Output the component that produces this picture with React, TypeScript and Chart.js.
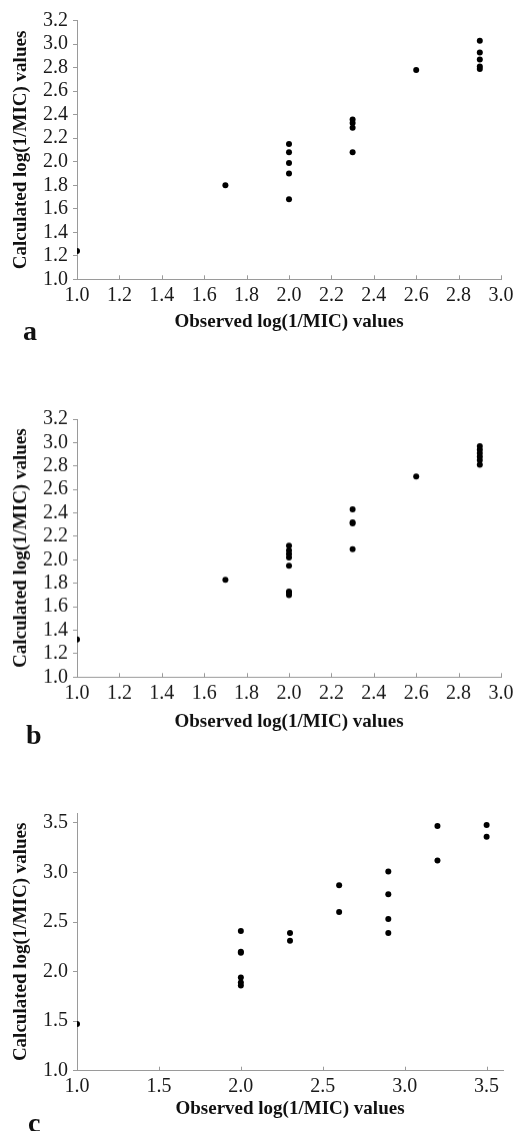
import React, { useEffect, useRef } from "react";
import { Chart, registerables } from "chart.js";

Chart.register(...registerables);

// ---- Data ----
const obsA = [1.0, 1.7, 2.0, 2.0, 2.0, 2.0, 2.0, 2.3, 2.3, 2.3, 2.3, 2.6, 2.9, 2.9, 2.9, 2.9, 2.9];
const calcA = [1.24, 1.8, 2.15, 2.08, 1.99, 1.9, 1.68, 2.36, 2.33, 2.29, 2.08, 2.78, 3.03, 2.93, 2.87, 2.81, 2.79];

const obsB = [1.0, 1.7, 2.0, 2.0, 2.0, 2.0, 2.0, 2.0, 2.0, 2.0, 2.3, 2.3, 2.3, 2.3, 2.6, 2.9, 2.9, 2.9, 2.9, 2.9, 2.9];
const calcB = [1.32, 1.83, 2.12, 2.08, 2.05, 2.02, 1.95, 1.73, 1.72, 1.7, 2.43, 2.32, 2.31, 2.09, 2.71, 2.97, 2.94, 2.91, 2.88, 2.85, 2.81];

const obsC = [1.0, 2.0, 2.0, 2.0, 2.0, 2.0, 2.0, 2.3, 2.3, 2.6, 2.6, 2.9, 2.9, 2.9, 2.9, 3.2, 3.2, 3.5, 3.5];
const calcC = [1.47, 2.41, 2.2, 2.19, 1.94, 1.89, 1.86, 2.39, 2.31, 2.87, 2.6, 3.01, 2.78, 2.53, 2.39, 3.47, 3.12, 3.48, 3.36];

const xTitle = "Observed log(1/MIC) values";
const yTitle = "Calculated log(1/MIC) values";
const panelLetters = ["a", "b", "c"];

// ---- Layout config ----
type Panel = {
  obs: number[];
  calc: number[];
  letter: string;
  top: number; // canvas top (page px)
  height: number; // canvas height
  padTop: number;
  padBottom: number;
  xHeight: number;
  xMin: number; xMax: number; xStep: number;
  yMin: number; yMax: number; yStep: number;
  letterX: number; letterY: number; // in canvas coords (baseline)
};

const panels: Panel[] = [
  { obs: obsA, calc: calcA, letter: panelLetters[0], top: 0, height: 348, padTop: 20.7, padBottom: 14.6, xHeight: 54.1,
    xMin: 1, xMax: 3, xStep: 0.2, yMin: 1, yMax: 3.2, yStep: 0.2, letterX: 23, letterY: 340 },
  { obs: obsB, calc: calcB, letter: panelLetters[1], top: 399.3, height: 350.7, padTop: 20, padBottom: 16.6, xHeight: 56.1,
    xMin: 1, xMax: 3, xStep: 0.2, yMin: 1, yMax: 3.2, yStep: 0.2, letterX: 26, letterY: 343.7 },
  { obs: obsC, calc: calcC, letter: panelLetters[2], top: 792.7, height: 338.3, padTop: 20, padBottom: 10.6, xHeight: 49.7,
    xMin: 1, xMax: 3.6, xStep: 0.5, yMin: 1, yMax: 3.6, yStep: 0.5, letterX: 28, letterY: 339 },
];

const AXIS = "#9a9a9a";
const SERIF = "'Liberation Serif', 'Times New Roman', serif";

const innerTicks = {
  id: "innerTicks",
  afterDraw(chart: any) {
    const xs = chart.scales.x;
    const ctx = chart.ctx;
    const bottom = chart.chartArea.bottom;
    ctx.save();
    ctx.strokeStyle = AXIS;
    ctx.lineWidth = 1;
    xs.ticks.forEach((t: any) => {
      const px = Math.round(xs.getPixelForValue(t.value)) + 0.5;
      ctx.beginPath();
      ctx.moveTo(px, bottom);
      ctx.lineTo(px, bottom - 4);
      ctx.stroke();
    });
    ctx.restore();
  },
};

const letterPlugin = {
  id: "panelLetter",
  afterDraw(chart: any, _args: any, opts: any) {
    const ctx = chart.ctx;
    ctx.save();
    ctx.font = `bold 28px ${SERIF}`;
    ctx.fillStyle = "#111";
    ctx.textBaseline = "alphabetic";
    ctx.textAlign = "left";
    ctx.fillText(opts.text, opts.x, opts.y);
    ctx.restore();
  },
};

function ScatterPanel({ p }: { p: Panel }) {
  const ref = useRef<HTMLCanvasElement>(null);
  useEffect(() => {
    if (!ref.current) return;
    const chart = new Chart(ref.current, {
      type: "scatter",
      data: {
        datasets: [
          {
            data: p.obs.map((x, i) => ({ x, y: p.calc[i] })),
            backgroundColor: "#000",
            borderWidth: 0,
            pointRadius: 3,
          },
        ],
      },
      options: {
        responsive: false,
        animation: false,
        layout: { padding: { top: p.padTop, bottom: p.padBottom, left: 0, right: 15 } },
        plugins: {
          legend: { display: false },
          tooltip: { enabled: false },
          panelLetter: { text: p.letter, x: p.letterX, y: p.letterY },
        } as any,
        scales: {
          x: {
            type: "linear",
            min: p.xMin,
            max: p.xMax,
            afterFit: (s: any) => { s.height = p.xHeight; },
            border: { display: true, color: AXIS, width: 1 },
            grid: { display: true, drawOnChartArea: false, drawTicks: false, color: AXIS },
            ticks: {
              stepSize: p.xStep,
              includeBounds: false,
              autoSkip: false,
              maxRotation: 0,
              padding: 4.5,
              color: "#1a1a1a",
              font: { family: SERIF, size: 20 },
              callback: (v: any) => Number(v).toFixed(1),
            },
            title: {
              display: true,
              text: xTitle,
              color: "#111",
              font: { family: SERIF, size: 19, weight: "bold" },
              padding: { top: 0, bottom: 0 },
            },
          },
          y: {
            type: "linear",
            min: p.yMin,
            max: p.yMax,
            afterFit: (s: any) => { s.width = 77; },
            border: { display: true, color: AXIS, width: 1 },
            grid: { display: true, drawOnChartArea: false, drawTicks: true, tickLength: 4, color: AXIS },
            ticks: {
              stepSize: p.yStep,
              includeBounds: false,
              autoSkip: false,
              padding: 5,
              color: "#1a1a1a",
              font: { family: SERIF, size: 20 },
              callback: (v: any) => Number(v).toFixed(1),
            },
            title: {
              display: true,
              text: yTitle,
              color: "#111",
              font: { family: SERIF, size: 19, weight: "bold" },
              padding: { top: 10, bottom: 0 },
            },
          },
        },
      },
      plugins: [innerTicks, letterPlugin],
    } as any);
    return () => chart.destroy();
  }, [p]);
  return (
    <canvas
      ref={ref}
      width={518}
      height={p.height}
      style={{ position: "absolute", left: 0, top: p.top, width: 518, height: p.height }}
    />
  );
}

export default function App() {
  return (
    <div style={{ position: "absolute", left: 0, top: 0, width: 518, height: 1131, background: "#fff", overflow: "hidden" }}>
      {panels.map((p, i) => (
        <ScatterPanel key={i} p={p} />
      ))}
    </div>
  );
}
